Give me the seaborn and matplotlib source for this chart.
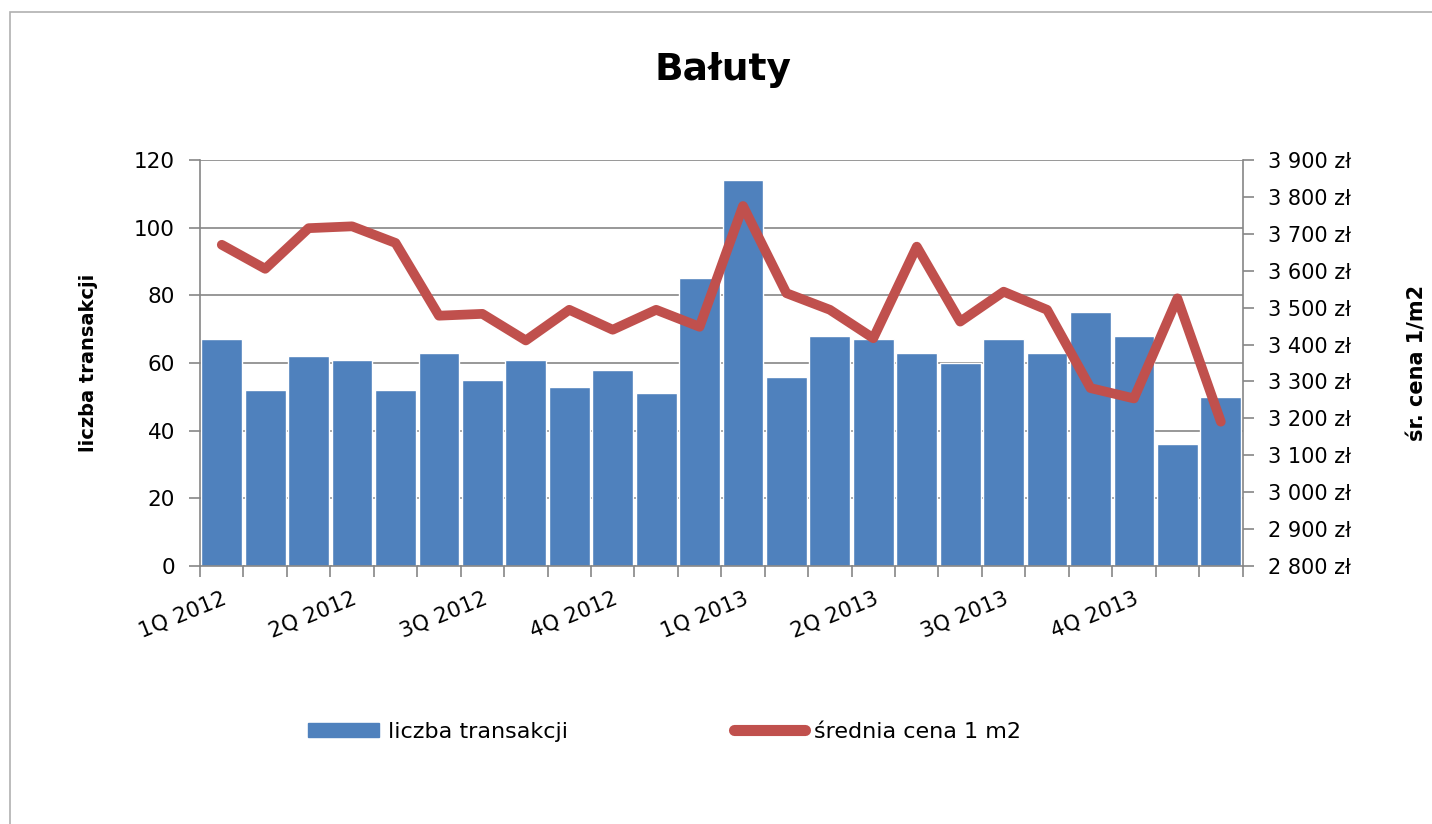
import numpy as np
import pandas as pd
import matplotlib
matplotlib.use("Agg")
import matplotlib.pyplot as plt
from matplotlib.patches import Rectangle
import seaborn as sns

# data (24 periods, labels every 3rd)
liczba = [67, 52, 62, 61, 52, 63, 55, 61, 53, 58, 51, 85,
          114, 56, 68, 67, 63, 60, 67, 63, 75, 68, 36, 50]
cena = [3670, 3605, 3715, 3720, 3675, 3478, 3483, 3411, 3494, 3440, 3494, 3448,
        3775, 3539, 3494, 3417, 3665, 3462, 3543, 3494, 3282, 3254, 3525, 3191]
kwartaly = ["1Q 2012", "2Q 2012", "3Q 2012", "4Q 2012",
            "1Q 2013", "2Q 2013", "3Q 2013", "4Q 2013"]

df = pd.DataFrame({"okres": np.arange(len(liczba)), "liczba": liczba, "cena": cena})

sns.set_theme(style="white")
plt.rcParams["font.family"] = ["DejaVu Sans"]
plt.rcParams["text.color"] = "black"
plt.rcParams["xtick.color"] = "black"
plt.rcParams["ytick.color"] = "black"
plt.rcParams["axes.labelcolor"] = "black"

blue = "#4f81bd"
red = "#c0504d"
grid = "#868686"

fig = plt.figure(figsize=(14.32, 8.24), dpi=100)
ax = fig.add_axes([0.1397, 0.313, 0.728, 0.493])

sns.barplot(data=df, x="okres", y="liczba", color=blue, width=0.94,
            saturation=1, ax=ax, zorder=2)
ax.set_xlim(-0.5, len(liczba) - 0.5)
ax.set_ylim(0, 120)
ax.set_yticks(range(0, 121, 20))
ax.yaxis.grid(True, color=grid, linewidth=1.2, zorder=0)
ax.set_axisbelow(True)

# x axis: ticks between categories, labels every quarter
ax.set_xticks(np.arange(0, len(liczba), 3))
ax.set_xticklabels(kwartaly, rotation=22, ha="right", rotation_mode="anchor",
                   fontsize=15.5)
ax.set_xticks(np.arange(-0.5, len(liczba), 1), minor=True)
ax.tick_params(axis="x", which="major", length=0, pad=16)
ax.tick_params(axis="x", which="minor", length=8, color=grid, width=1.2, bottom=True)
ax.tick_params(axis="y", length=8, color=grid, width=1.2, left=True, labelsize=15.5, pad=10)
ax.set_xlabel("")

for s in ["top", "right"]:
    ax.spines[s].set_visible(False)
for s in ["left", "bottom"]:
    ax.spines[s].set_color(grid)
    ax.spines[s].set_linewidth(1.2)

ax.set_ylabel("liczba transakcji", fontsize=14, fontweight="bold")
ax.yaxis.set_label_coords(-0.098, 0.5)

ax2 = ax.twinx()
sns.lineplot(data=df, x="okres", y="cena", color=red, linewidth=7, ax=ax2,
             zorder=3)
ax2.set_ylim(2800, 3900)
ax2.set_yticks(range(2800, 3901, 100))
ax2.set_yticklabels([f"{v // 1000} {v % 1000:03d} zł" for v in range(2800, 3901, 100)])
ax2.tick_params(axis="y", length=8, color=grid, width=1.2, right=True,
                labelsize=15, pad=10)
for s in ["top", "left", "bottom"]:
    ax2.spines[s].set_visible(False)
ax2.spines["right"].set_color(grid)
ax2.spines["right"].set_linewidth(1.2)
ax2.set_ylabel("śr. cena 1/m2", fontsize=15, fontweight="bold")
ax2.yaxis.set_label_coords(1.158, 0.5)
ax2.set_xlabel("")

fig.text(0.505, 0.915, "Bałuty", ha="center", va="center", fontsize=27,
         fontweight="bold")

handles = [Rectangle((0, 0), 1, 1, color=blue),
           plt.Line2D([0], [0], color=red, linewidth=8, solid_capstyle="round")]
fig.legend(handles, ["liczba transakcji", "średnia cena 1 m2"], ncol=2,
           loc="center", bbox_to_anchor=(0.464, 0.112), frameon=False,
           fontsize=16, handlelength=3.2, handleheight=0.6, handletextpad=0.4,
           columnspacing=7.5)

# outer chart border
fig.patches.append(Rectangle((0.007, -0.05), 1.2, 1.035, transform=fig.transFigure,
                             fill=False, edgecolor="#b0b0b0", linewidth=1.2))

fig.savefig("out.png", dpi=100)
